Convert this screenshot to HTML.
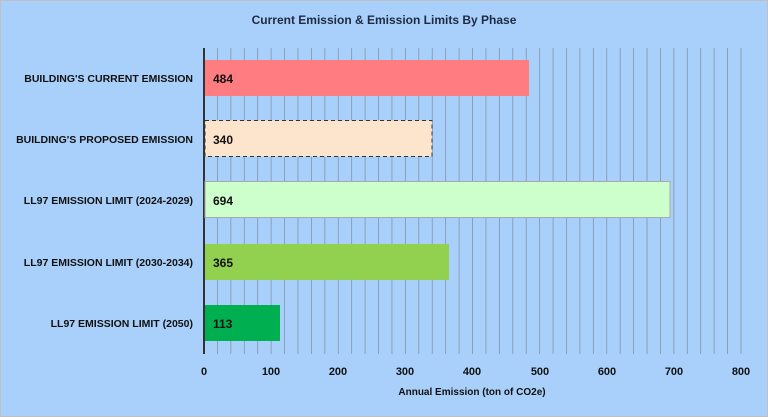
<!DOCTYPE html>
<html><head><meta charset="utf-8"><style>
body{margin:0;background:#a9d0fa;}
svg{display:block;font-family:"Liberation Sans",Calibri,sans-serif;font-weight:bold;}
</style></head><body>
<svg width="768" height="417" xmlns="http://www.w3.org/2000/svg">
<rect x="0.5" y="0.5" width="767" height="416" fill="#a9d0fa" stroke="#bfbfbf" stroke-width="1"/>
<text x="384" y="24" text-anchor="middle" font-size="12" fill="#1f2a44">Current Emission &amp; Emission Limits By Phase</text>
<g stroke="#8a9bb0" stroke-width="1">
<script>0</script>
</g>
<g id="grid" stroke="#8394ab" stroke-width="0.8"></g>
<line x1="204" y1="48" x2="204" y2="354" stroke="#333" stroke-width="2"/>
<rect x="205" y="60" width="324" height="36" fill="#ff7c80"/>
<rect x="205" y="120.5" width="227" height="36" fill="#fde5cd" stroke="#333" stroke-width="1" stroke-dasharray="4,3"/>
<rect x="205" y="181.5" width="465" height="36" fill="#ccffcc" stroke="#a9a9a9" stroke-width="1"/>
<rect x="205" y="244" width="244" height="36" fill="#92d050"/>
<rect x="205" y="305" width="75" height="36" fill="#00b050"/>
<g font-size="12" fill="#111">
<text x="213" y="83">484</text>
<text x="213" y="144">340</text>
<text x="213" y="205">694</text>
<text x="213" y="267">365</text>
<text x="213" y="328">113</text>
</g>
<g font-size="10.5" fill="#111" text-anchor="end">
<text x="193" y="82">BUILDING'S CURRENT EMISSION</text>
<text x="193" y="143">BUILDING'S PROPOSED EMISSION</text>
<text x="193" y="204">LL97 EMISSION LIMIT (2024-2029)</text>
<text x="193" y="266">LL97 EMISSION LIMIT (2030-2034)</text>
<text x="193" y="327">LL97 EMISSION LIMIT (2050)</text>
</g>
<g font-size="11" fill="#111" text-anchor="middle">
<text x="204" y="375">0</text><text x="271" y="375">100</text><text x="338" y="375">200</text><text x="405" y="375">300</text><text x="472" y="375">400</text><text x="540" y="375">500</text><text x="607" y="375">600</text><text x="674" y="375">700</text><text x="741" y="375">800</text>
</g>
<text x="472" y="395" text-anchor="middle" font-size="10" fill="#111">Annual Emission (ton of CO2e)</text>
</svg>
<script>
var g=document.getElementById('grid'),s='';
for(var i=1;i<=40;i++){var x=204+i*537/40;s+='<line x1="'+x+'" y1="48" x2="'+x+'" y2="354"/>';}
g.innerHTML=s;
document.querySelectorAll('rect[x="205"]').forEach(function(r){r.parentNode.appendChild(r);});
var t=document.querySelectorAll('g[font-size="12"]')[0];t.parentNode.appendChild(t);
</script>
</body></html>
